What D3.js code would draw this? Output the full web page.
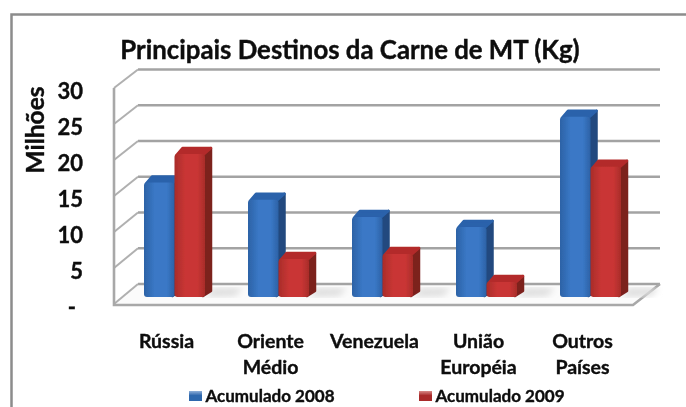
<!DOCTYPE html>
<html>
<head>
<meta charset="utf-8">
<script src="https://cdn.jsdelivr.net/npm/d3@7"></script>
<style>
  html, body { margin: 0; padding: 0; background: #fff; }
  svg { display: block; }
  text { font-family: Lato, "Open Sans", sans-serif; font-weight: 700; fill: #0a0a0a; stroke: #0a0a0a; stroke-width: 0.35px; }
</style>
</head>
<body>
<div id="chart"></div>
<script>
const categories = [["Rússia"], ["Oriente", "Médio"], ["Venezuela"], ["União", "Européia"], ["Outros", "Países"]];
const seriesNames = ["Acumulado 2008", "Acumulado 2009"];
const values2008 = [16, 13.6, 11.2, 9.8, 25.2];
const values2009 = [20, 5.3, 6, 2.1, 18.2];
const yTicks = [0, 5, 10, 15, 20, 25, 30];

const width = 686, height = 407;
const depth = {x: 24, y: 20};     // whole floor depth
const barDepth = {x: 7, y: 6};

const svg = d3.select("#chart").append("svg")
    .attr("width", width)
    .attr("height", height);

const defs = svg.append("defs");

function barGradient(id, edge, mid) {
  const g = defs.append("linearGradient").attr("id", id);
  g.append("stop").attr("offset", "0%").attr("stop-color", edge);
  g.append("stop").attr("offset", "35%").attr("stop-color", mid);
  g.append("stop").attr("offset", "75%").attr("stop-color", mid);
  g.append("stop").attr("offset", "100%").attr("stop-color", edge);
}
barGradient("blueFront", "#2c62a6", "#3a78c6");
barGradient("redFront", "#a92c2a", "#c93634");

function swatchGradient(id, light, dark) {
  const g = defs.append("linearGradient").attr("id", id).attr("x2", 0).attr("y2", 1);
  g.append("stop").attr("offset", "0%").attr("stop-color", light);
  g.append("stop").attr("offset", "45%").attr("stop-color", dark);
  g.append("stop").attr("offset", "100%").attr("stop-color", dark);
}
swatchGradient("blueSwatch", "#8fb0d8", "#2f67ad");
swatchGradient("redSwatch", "#d88a88", "#a92c2a");

defs.append("filter").attr("id", "soft")
  .append("feGaussianBlur").attr("stdDeviation", 0.4);
defs.append("filter").attr("id", "shadow")
  .append("feGaussianBlur").attr("stdDeviation", 3);

const root = svg.append("g").attr("filter", "url(#soft)");

// frame, only top and left show in the picture
root.append("path")
  .attr("d", "M11.5," + height + "V14.5H" + width)
  .attr("fill", "none")
  .attr("stroke", "#8c8c8c")
  .attr("stroke-width", 2.5);

root.append("text")
  .attr("x", 350)
  .attr("y", 59)
  .attr("text-anchor", "middle")
  .style("font-size", "25.8px")
  .text("Principais Destinos da Carne de MT (Kg)");

// scales
const yFront = d3.scaleLinear().domain([0, 30]).range([304, 88]);
const yBack = d3.scaleLinear().domain([0, 30]).range([284, 69.5]);
const yBar = d3.scaleLinear().domain([0, 30]).range([297, 82.5]);
const x0 = d3.scaleBand().domain(d3.range(categories.length)).range([122.5, 642.5]);
const x1 = d3.scaleBand().domain(seriesNames).range([21.5, 82.5]);

const colors = {
  "Acumulado 2008": {front: "url(#blueFront)", side: "#21497f", top: "#2a62ab", swatch: "url(#blueSwatch)"},
  "Acumulado 2009": {front: "url(#redFront)", side: "#7c201f", top: "#b32c2a", swatch: "url(#redSwatch)"}
};

const left = 114, floorRight = 633;

// floor
root.append("polygon")
  .attr("points", [[left, yFront(0)], [left + depth.x, yBack(0)], [floorRight + depth.x + 3, yBack(0)], [floorRight, yFront(0)]].join(" "))
  .attr("fill", "#fbfbfb");

// gridlines on the back wall and the left wall
const gridColor = "#a3a3a3";
const grid = root.append("g");

grid.selectAll(".back").data(yTicks).enter().append("line")
    .attr("class", "back")
    .attr("x1", left + depth.x)
    .attr("x2", 660)
    .attr("y1", d => yBack(d))
    .attr("y2", d => yBack(d))
    .attr("stroke", gridColor)
    .attr("stroke-width", 2.4);

grid.selectAll(".wall").data(yTicks).enter().append("line")
    .attr("class", "wall")
    .attr("x1", left)
    .attr("x2", left + depth.x)
    .attr("y1", d => yFront(d))
    .attr("y2", d => yBack(d))
    .attr("stroke", "#b0b0b0")
    .attr("stroke-width", 2);

grid.append("path")
    .attr("d", "M" + left + "," + yFront(30) + "V" + (yFront(0) + 1) + "H" + floorRight + "L660," + yBack(0))
    .attr("fill", "none")
    .attr("stroke", "#a8a8a8")
    .attr("stroke-width", 2.6);

// bar shadows on the floor
const bars = [];
categories.forEach((c, i) => {
  bars.push({i: i, name: seriesNames[0], value: values2008[i]});
  bars.push({i: i, name: seriesNames[1], value: values2009[i]});
});

root.append("g").selectAll("polygon")
  .data(bars.filter(d => d.name === seriesNames[1]))
  .enter().append("polygon")
    .attr("filter", "url(#shadow)")
    .attr("fill", "#dedede")
    .attr("points", d => {
      const x = x0(d.i) + x1(d.name) + x1.bandwidth();
      const y = yBar(0);
      return [[x, y], [x + 30, y - 1], [x + 38, y - 9], [x + 8, y - 9]].join(" ");
    });

// bars, the thick round strokes give the bevelled corners
const barG = root.append("g").selectAll("g")
  .data(bars)
  .enter().append("g");

barG.append("polygon")   // side
    .attr("fill", d => colors[d.name].side)
    .attr("stroke", d => colors[d.name].side)
    .attr("stroke-width", 2.5)
    .attr("stroke-linejoin", "round")
    .attr("points", d => {
      const x = x0(d.i) + x1(d.name) + x1.bandwidth();
      return [[x - 2, yBar(d.value) + 1], [x + barDepth.x - 1, yBar(d.value) - barDepth.y],
              [x + barDepth.x - 1, yBar(0) - barDepth.y], [x - 2, yBar(0) - 1]].join(" ");
    });

barG.append("polygon")   // top
    .attr("fill", d => colors[d.name].top)
    .attr("stroke", d => colors[d.name].top)
    .attr("stroke-width", 2.5)
    .attr("stroke-linejoin", "round")
    .attr("points", d => {
      const x = x0(d.i) + x1(d.name), w = x1.bandwidth(), y = yBar(d.value);
      return [[x + 2, y + 1], [x + barDepth.x + 1, y - barDepth.y], [x + w + barDepth.x - 1, y - barDepth.y], [x + w - 2, y + 1]].join(" ");
    });

barG.append("rect")      // front
    .attr("x", d => x0(d.i) + x1(d.name))
    .attr("y", d => yBar(d.value))
    .attr("width", x1.bandwidth())
    .attr("height", d => yBar(0) - yBar(d.value))
    .attr("rx", 3)
    .attr("fill", d => colors[d.name].front);

// y axis, labels only
const yAxis = d3.axisLeft(yFront)
    .tickValues(yTicks)
    .tickSize(0)
    .tickPadding(0)
    .tickFormat(d => d === 0 ? "-" : d);

const yG = root.append("g")
    .attr("transform", "translate(83,3)")
    .call(yAxis);
yG.select(".domain").remove();
yG.selectAll("text").style("font-size", "22px").style("font-family", "Lato, sans-serif");
yG.selectAll("text").filter(d => d === 0).attr("dx", "-7");

root.append("text")
  .attr("transform", "translate(44,130) rotate(-90)")
  .attr("text-anchor", "middle")
  .style("font-size", "24.5px")
  .text("Milhões");

// category axis
const xAxis = d3.axisBottom(x0).tickSize(0).tickFormat("");
const xG = root.append("g")
    .attr("transform", "translate(-8,347.5)")
    .call(xAxis);
xG.select(".domain").remove();

const label = xG.selectAll(".tick").append("text")
    .attr("text-anchor", "middle")
    .style("font-size", "19.5px");
label.selectAll("tspan")
  .data(i => categories[i])
  .enter().append("tspan")
    .attr("x", 0)
    .attr("y", (d, j) => j * 26)
    .text(d => d);

// legend
const legendX = d3.scaleOrdinal().domain(seriesNames).range([189, 419]);
const legend = root.append("g").selectAll("g")
  .data(seriesNames)
  .enter().append("g")
    .attr("transform", d => "translate(" + legendX(d) + ",391)");

legend.append("rect")
    .attr("width", 13)
    .attr("height", 10)
    .attr("fill", d => colors[d].swatch);

legend.append("text")
    .attr("x", 16.5)
    .attr("y", 11)
    .style("font-size", "17px")
    .text(d => d);
</script>
</body>
</html>
